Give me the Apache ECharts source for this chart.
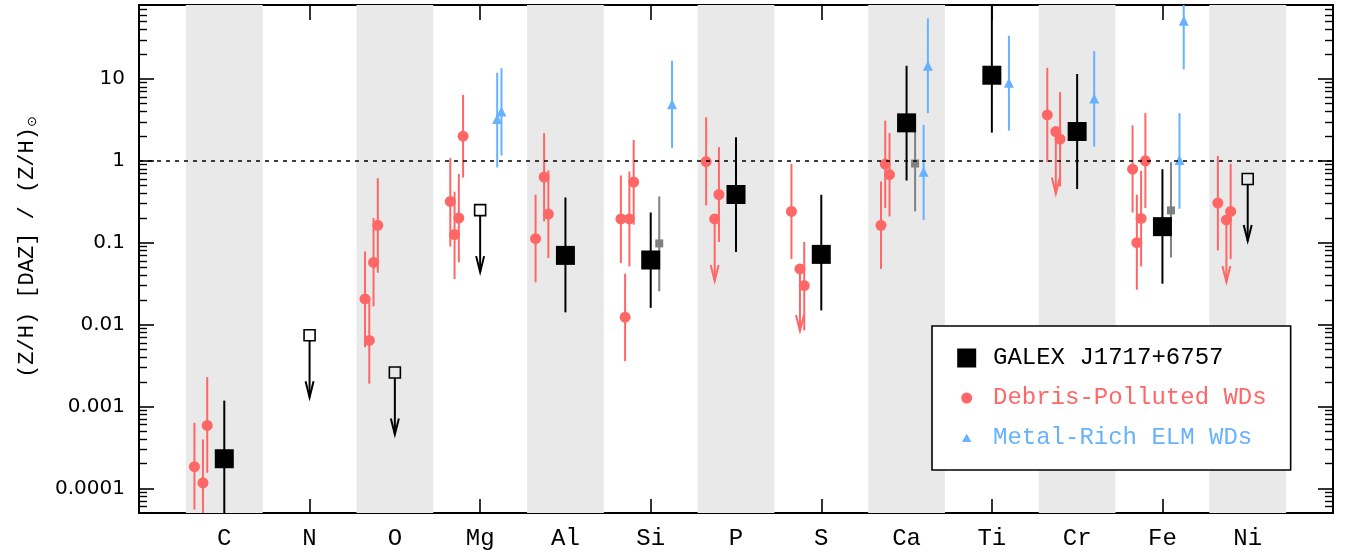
<!DOCTYPE html>
<html><head><meta charset="utf-8">
<script src="https://cdn.jsdelivr.net/npm/echarts@6/dist/echarts.min.js"></script>
<style>html,body{margin:0;padding:0;background:#fff}#c{width:1348px;height:553px}</style>
</head><body><div id="c"></div>
<script>
// ---- data ----
const elements = ['C','N','O','Mg','Al','Si','P','S','Ca','Ti','Cr','Fe','Ni'];
const shadedElements = ['C','O','Al','P','Ca','Cr','Ni'];
const yTickValues = [0.0001, 0.001, 0.01, 0.1, 1, 10];
const yTickLabels = ['0.0001', '0.001', '0.01', '0.1', '1', '10'];
const solarRef = 1;

// GALEX J1717+6757 detections: [element, value, low, high]
const galexDet = [
  ['C', 2.3e-4, 3e-5, 1.18e-3],
  ['Al', 0.070, 0.0141, 0.357],
  ['Si', 0.0615, 0.016, 0.234],
  ['P', 0.388, 0.077, 1.94],
  ['S', 0.072, 0.0149, 0.385],
  ['Ca', 2.91, 0.575, 14.5],
  ['Ti', 11.1, 2.21, 200],
  ['Cr', 2.28, 0.452, 11.5],
  ['Fe', 0.157, 0.0316, 0.79]
];
// GALEX J1717+6757 upper limits: [element, value]
const galexUL = [['N', 0.0074], ['O', 0.0026], ['Mg', 0.25], ['Ni', 0.60]];

// Debris-polluted WDs: [element, star slot, value, low, high]
const debrisDet = [
  ['C',0,1.84e-4,5.5e-5,6.3e-4], ['C',2,1.17e-4,3e-5,3.96e-4], ['C',3,5.86e-4,1.55e-4,2.28e-3],
  ['O',0,0.0206,0.0053,0.078], ['O',1,0.0064,0.0019,0.0215], ['O',2,0.0575,0.0167,0.2], ['O',3,0.163,0.043,0.615],
  ['Mg',0,0.319,0.09,1.08], ['Mg',1,0.126,0.036,0.42], ['Mg',2,0.2,0.0575,0.69], ['Mg',3,2.0,0.625,6.4],
  ['Al',0,0.112,0.0328,0.385], ['Al',2,0.633,0.182,2.18], ['Al',3,0.224,0.065,0.762],
  ['Si',0,0.195,0.0565,0.662], ['Si',1,0.0123,0.00357,0.0419], ['Si',2,0.195,0.0514,0.74], ['Si',3,0.55,0.166,1.8],
  ['P',0,0.98,0.285,3.41], ['P',3,0.388,0.102,1.47],
  ['S',0,0.241,0.0633,0.919], ['S',3,0.030,0.0085,0.102],
  ['Ca',1,0.163,0.0478,0.56], ['Ca',2,0.912,0.265,3.1], ['Ca',3,0.68,0.209,2.18],
  ['Cr',0,3.64,0.964,13.7], ['Cr',3,1.84,0.486,6.9],
  ['Fe',0,0.79,0.234,2.7], ['Fe',1,0.1,0.0267,0.385], ['Fe',2,0.198,0.0514,0.755], ['Fe',3,1.0,0.265,3.82],
  ['Ni',0,0.305,0.0805,1.15], ['Ni',3,0.241,0.0633,0.919]
];
// Debris-polluted WDs upper limits: [element, star slot, value]
const debrisUL = [['P',2,0.195], ['S',2,0.0478], ['Cr',2,2.28], ['Ni',2,0.19]];

// Metal-rich ELM WDs: [element, star slot, value, low, high]
const elmDet = [
  ['Mg',0,3.25,0.83,11.9], ['Mg',1,3.99,1.16,13.5],
  ['Si',1,4.91,1.43,16.7],
  ['Ca',0,0.734,0.19,2.75], ['Ca',1,14.5,3.82,55],
  ['Ti',0,9.0,2.34,33.7],
  ['Cr',0,5.75,1.49,21.9],
  ['Fe',0,1.02,0.26,3.82], ['Fe',1,51.4,13.1,200]
];
// Other comparison object (grey): [element, value, low, high]
const greyDet = [['Si',0.098,0.0255,0.367], ['Ca',0.927,0.241,3.47], ['Fe',0.248,0.066,0.964]];

// ---- styling ----
const C_BLACK = '#000000', C_RED = '#ff6666', C_BLUE = '#66b2ff', C_GREY = '#808080', C_BAND = '#e9e9e9';
const MONO = 'Liberation Mono';
const idx = el => elements.indexOf(el);
const debrisX = (el, s) => idx(el) - 0.35 + 0.05 * s;
const elmX = (el, s) => idx(el) + 0.20 + 0.05 * s;
const greyX = el => idx(el) + 0.10;

function errorBarSeries(name, rows, color, width) {
  return {
    type: 'custom', name: name, z: 2, clip: true, silent: true,
    data: rows,
    encode: { x: 0, y: [1, 2] },
    renderItem: function (params, api) {
      const x = api.value(0);
      const p1 = api.coord([x, api.value(1)]);
      const p2 = api.coord([x, api.value(2)]);
      return { type: 'line', shape: { x1: p1[0], y1: p1[1], x2: p2[0], y2: p2[1] },
               style: { stroke: color, lineWidth: width } };
    }
  };
}
function upperLimitSeries(name, rows, color, openSquare) {
  const LEN = 62, HEAD = 16, HW = 4, SQ = 11;
  return {
    type: 'custom', name: name, z: 3, clip: true, silent: true,
    data: rows,
    encode: { x: 0, y: 1 },
    renderItem: function (params, api) {
      const p = api.coord([api.value(0), api.value(1)]);
      const start = openSquare ? p[1] + SQ / 2 : p[1];
      const tip = p[1] + LEN;
      const children = [
        { type: 'line', shape: { x1: p[0], y1: start, x2: p[0], y2: tip }, style: { stroke: color, lineWidth: 2 } },
        { type: 'polyline', shape: { points: [[p[0] - HW, tip - HEAD], [p[0], tip], [p[0] + HW, tip - HEAD]] },
          style: { stroke: color, lineWidth: 2, fill: null } }
      ];
      if (openSquare) {
        children.push({ type: 'rect', shape: { x: p[0] - SQ / 2, y: p[1] - SQ / 2, width: SQ, height: SQ },
          style: { stroke: color, lineWidth: 1.6, fill: null } });
      }
      return { type: 'group', children: children };
    }
  };
}

const galexPts = galexDet.map(r => [idx(r[0]), r[1]]);
const galexBars = galexDet.map(r => [idx(r[0]), r[2], r[3]]);
const galexULPts = galexUL.map(r => [idx(r[0]), r[1]]);
const debrisPts = debrisDet.map(r => [debrisX(r[0], r[1]), r[2]]).concat(debrisUL.map(r => [debrisX(r[0], r[1]), r[2]]));
const debrisBars = debrisDet.map(r => [debrisX(r[0], r[1]), r[3], r[4]]);
const debrisULPts = debrisUL.map(r => [debrisX(r[0], r[1]), r[2]]);
const elmPts = elmDet.map(r => [elmX(r[0], r[1]), r[2]]);
const elmBars = elmDet.map(r => [elmX(r[0], r[1]), r[3], r[4]]);
const greyPts = greyDet.map(r => [greyX(r[0]), r[1]]);
const greyBars = greyDet.map(r => [greyX(r[0]), r[2], r[3]]);

const bandAreas = shadedElements.map(el => [{ xAxis: idx(el) - 0.45 }, { xAxis: idx(el) + 0.45 }]);

function yLabel(v) {
  for (let i = 0; i < yTickValues.length; i++) {
    if (Math.abs(Math.log10(v) - Math.log10(yTickValues[i])) < 1e-6) return yTickLabels[i];
  }
  return '';
}

const axisLineStyle = { color: '#000', width: 2 };
const yAxisBase = {
  type: 'log', logBase: 10, min: 5e-5, max: 80,
  axisLine: { show: true, onZero: false, lineStyle: axisLineStyle },
  axisTick: { show: true, inside: true, length: 15, lineStyle: { color: '#000', width: 1.6 } },
  minorTick: { show: true, splitNumber: 9, length: 8, lineStyle: { color: '#000', width: 1.4 } },
  splitLine: { show: false }, minorSplitLine: { show: false }
};
const xAxisBase = {
  type: 'value', min: -1, max: 13, interval: 1,
  axisLine: { show: true, onZero: false, lineStyle: axisLineStyle },
  axisTick: { show: true, inside: true, length: 14, lineStyle: { color: '#000', width: 1.6 } },
  splitLine: { show: false }
};

const LEG_W = 36, LEG_H = 19;
const iconSquare = 'path://M0 0M36 19M5.2 0H24.2V19H5.2Z';
const iconCircle = 'path://M0 0M36 19M9.2 9.5A5.5 5.5 0 1 1 20.2 9.5A5.5 5.5 0 1 1 9.2 9.5Z';
const iconTri = 'path://M0 0M36 19M14.7 5.2L19.4 13.6L10 13.6Z';

const option = {
  animation: false,
  backgroundColor: '#fff',
  grid: { left: 139, right: 15, top: 5, bottom: 40, containLabel: false },
  xAxis: [
    Object.assign({}, xAxisBase, { position: 'bottom',
      axisLabel: { show: true, margin: 14, color: '#000', fontFamily: MONO, fontSize: 24,
        formatter: v => (v >= 0 && v < elements.length) ? elements[v] : '' } }),
    Object.assign({}, xAxisBase, { position: 'top', axisTick: { show: true, inside: true, length: 15, lineStyle: { color: '#000', width: 1.6 } },
      axisLabel: { show: false } })
  ],
  yAxis: [
    Object.assign({}, yAxisBase, { position: 'left',
      name: '(Z/H) [DAZ] / (Z/H){s|⊙}', nameLocation: 'middle', nameGap: 100, nameRotate: 90,
      nameTextStyle: { fontFamily: MONO, fontSize: 22, color: '#000', padding: [0, 0, 0, 24],
        rich: { s: { fontFamily: 'DejaVu Sans', fontSize: 13, color: '#000', verticalAlign: 'bottom', padding: [10, 0, 0, 0] } } },
      axisLabel: { show: true, margin: 14, color: '#000', fontFamily: 'DejaVu Sans', fontSize: 20, formatter: yLabel } }),
    Object.assign({}, yAxisBase, { position: 'right', axisLabel: { show: false } })
  ],
  legend: {
    show: true, orient: 'vertical', left: 932, top: 326,
    padding: [20, 24, 20, 20], itemGap: 16,
    itemWidth: LEG_W, itemHeight: LEG_H,
    backgroundColor: '#fff', borderColor: '#000', borderWidth: 1.6, borderRadius: 0,
    selectedMode: false,
    textStyle: { fontFamily: MONO, fontSize: 24 },
    data: [
      { name: 'GALEX J1717+6757', icon: iconSquare, textStyle: { color: C_BLACK } },
      { name: 'Debris-Polluted WDs', icon: iconCircle, textStyle: { color: C_RED } },
      { name: 'Metal-Rich ELM WDs', icon: iconTri, textStyle: { color: C_BLUE } }
    ]
  },
  series: [
    {
      type: 'scatter', name: 'bands', data: [], z: 1, silent: true,
      markArea: { silent: true, itemStyle: { color: C_BAND }, data: bandAreas },
      markLine: { silent: true, symbol: ['none', 'none'], label: { show: false },
        lineStyle: { color: '#000', width: 1.6, type: [4, 5] }, data: [{ yAxis: solarRef }] }
    },
    errorBarSeries('debrisBars', debrisBars, C_RED, 2),
    errorBarSeries('elmBars', elmBars, C_BLUE, 2),
    errorBarSeries('greyBars', greyBars, C_GREY, 2),
    errorBarSeries('galexBars', galexBars, C_BLACK, 2),
    upperLimitSeries('debrisUL', debrisULPts, C_RED, false),
    upperLimitSeries('galexUL', galexULPts, C_BLACK, true),
    { type: 'scatter', name: 'Debris-Polluted WDs', z: 4, symbol: 'circle', symbolSize: 11,
      itemStyle: { color: C_RED, opacity: 1 }, data: debrisPts },
    { type: 'scatter', name: 'Metal-Rich ELM WDs', z: 4, symbol: 'triangle', symbolSize: 10,
      itemStyle: { color: C_BLUE, opacity: 1 }, data: elmPts },
    { type: 'scatter', name: 'grey', z: 4, symbol: 'rect', symbolSize: 8,
      itemStyle: { color: C_GREY, opacity: 1 }, data: greyPts },
    { type: 'scatter', name: 'GALEX J1717+6757', z: 5, symbol: 'rect', symbolSize: 19,
      itemStyle: { color: C_BLACK, opacity: 1 }, data: galexPts }
  ]
};
const chart = echarts.init(document.getElementById('c'), null, { renderer: 'canvas' });
chart.setOption(option);
</script></body></html>
